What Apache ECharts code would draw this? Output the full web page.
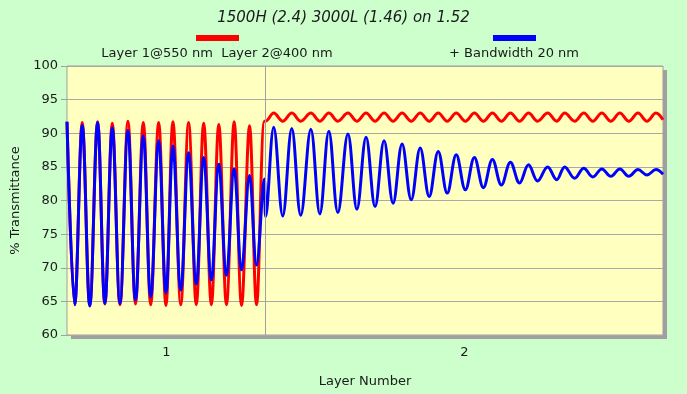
<!DOCTYPE html>
<html>
<head>
<meta charset="utf-8">
<script src="https://cdn.jsdelivr.net/npm/echarts@6/dist/echarts.min.js"></script>
<style>
html,body{margin:0;padding:0;background:#CCFFCC;}
#c{width:687px;height:394px;}
</style>
</head>
<body>
<div id="c"></div>
<script>
// Physical thickness (nm) of each read extremum, in drawing order
var thicknessNm = [
  0, 58, 115, 172, 231, 286, 342, 400, 460, 517, 576, 632, 692, 747, 800, 859, 918, 976, 1032, 1090,
  1146, 1204, 1262, 1318, 1378, 1431, 1490,
  1500,
  1561, 1629, 1697, 1765, 1841, 1909, 1977, 2045, 2121, 2189, 2258, 2326, 2394, 2462, 2530, 2599,
  2667, 2735, 2803, 2871, 2939, 3008, 3076, 3144, 3212, 3280, 3348, 3417, 3485, 3553, 3629, 3697,
  3758, 3833, 3902, 3970, 4038, 4106, 4174, 4242, 4311, 4379, 4447,
  4500
];
// Red: Layer 1 @ 550 nm, Layer 2 @ 400 nm
var redT = [
  91.7, 64.5, 91.6, 64.4, 91.7, 64.6, 91.5, 64.5, 91.8, 64.6, 91.6, 64.5, 91.6, 64.4, 91.7, 64.5,
  91.6, 64.5, 91.5, 64.5, 91.3, 64.5, 91.7, 64.4, 91.1, 64.5, 91.8,
  91.8,
  93.0, 91.8, 93.0, 91.8, 93.0, 91.8, 93.0, 91.8, 93.0, 91.8, 93.0, 91.8, 93.0, 91.8, 93.0, 91.8,
  93.0, 91.8, 93.0, 91.8, 93.0, 91.8, 93.0, 91.8, 93.0, 91.8, 93.0, 91.8, 93.0, 91.8, 93.0, 91.8,
  93.0, 91.8, 93.0, 91.8, 93.0, 91.8, 93.0, 91.8, 93.0, 91.8, 93.0,
  92.0
];
// Blue: + Bandwidth 20 nm
var blueT = [
  91.7, 64.5, 91.2, 64.3, 91.6, 64.7, 90.8, 64.7, 90.4, 65.2, 89.6, 65.7, 88.9, 66.3, 88.1, 66.7,
  87.1, 67.6, 86.4, 68.2, 85.4, 68.9, 84.7, 69.7, 83.7, 70.4, 83.2,
  77.6,
  90.9, 77.7, 90.7, 77.8, 90.6, 78.0, 90.3, 78.2, 89.9, 78.7, 89.4, 79.1, 88.9, 79.6, 88.4, 80.1,
  87.8, 80.6, 87.3, 81.1, 86.8, 81.6, 86.4, 81.9, 86.1, 82.3, 85.7, 82.6, 85.3, 82.9, 85.0, 83.1,
  85.0, 83.3, 84.8, 83.5, 84.7, 83.6, 84.7, 83.6, 84.6, 83.8, 84.6,
  83.9
];
var layerBoundary = 1500;
var layerLabels = {750: '1', 3000: '2'};
var yTicks = [60, 65, 70, 75, 80, 85, 90, 95, 100];

var titleText = '1500H (2.4) 3000L (1.46) on 1.52';
var redName = 'Layer 1@550 nm  Layer 2@400 nm';
var blueName = '+ Bandwidth 20 nm';

function pairs(xs, ys) { return xs.map(function (x, i) { return [x, ys[i]]; }); }

var FONT = 'DejaVu Sans';
var chart = echarts.init(document.getElementById('c'), null, {renderer: 'canvas'});
chart.setOption({
  backgroundColor: '#CCFFCC',
  animation: false,
  textStyle: {fontFamily: FONT},
  title: {
    text: titleText, left: 'center', top: 6,
    textStyle: {fontFamily: FONT, fontSize: 15, fontStyle: 'italic', fontWeight: 'normal', color: '#1a1a1a'}
  },
  graphic: [
    {type: 'rect', z: -10, silent: true, shape: {x: 71, y: 70, width: 596, height: 269}, style: {fill: '#A0A0A0'}},
    {type: 'rect', shape: {x: 196, y: 35, width: 43, height: 6}, style: {fill: '#FF0000'}},
    {type: 'rect', shape: {x: 493, y: 35, width: 43, height: 6}, style: {fill: '#0000FF'}},
    {type: 'text', x: 217, y: 54, style: {text: redName, fill: '#1a1a1a', font: '13px "DejaVu Sans"', textAlign: 'center', textVerticalAlign: 'middle'}},
    {type: 'text', x: 514, y: 54, style: {text: blueName, fill: '#1a1a1a', font: '13px "DejaVu Sans"', textAlign: 'center', textVerticalAlign: 'middle'}}
  ],
  grid: {
    show: true, left: 67, right: 24, top: 66, bottom: 59, z: 0,
    backgroundColor: '#FFFFC0', borderColor: '#A0A0A0', borderWidth: 1
  },
  xAxis: {
    type: 'value', min: 0, max: 4500, interval: 750,
    name: 'Layer Number', nameLocation: 'middle', nameGap: 40,
    nameTextStyle: {fontFamily: FONT, fontSize: 13, color: '#1a1a1a'},
    axisLine: {show: false}, axisTick: {show: false},
    splitLine: {show: false},
    axisLabel: {
      margin: 11, color: '#1a1a1a', fontSize: 13, fontFamily: FONT,
      formatter: function (v) { return layerLabels[v] || ''; }
    }
  },
  yAxis: {
    type: 'value', min: yTicks[0], max: yTicks[yTicks.length - 1], interval: 5,
    name: '% Transmittance', nameLocation: 'middle', nameGap: 44, nameRotate: 90,
    nameTextStyle: {fontFamily: FONT, fontSize: 13, color: '#1a1a1a'},
    axisLine: {show: false},
    axisTick: {show: true, length: 6, lineStyle: {color: '#A0A0A0'}},
    axisLabel: {margin: 9, color: '#1a1a1a', fontSize: 13, fontFamily: FONT},
    splitLine: {show: true, lineStyle: {color: '#A8A8A8', width: 1}}
  },
  series: [
    {
      name: redName, type: 'line', data: pairs(thicknessNm, redT),
      smooth: 0.38, showSymbol: false, symbol: 'none',
      lineStyle: {color: '#FF0000', width: 3}, itemStyle: {color: '#FF0000'},
      markLine: {
        silent: true, symbol: 'none', label: {show: false},
        lineStyle: {color: '#A0A0A0', width: 1, type: 'solid'},
        data: [{xAxis: layerBoundary}]
      },
      z: 2
    },
    {
      name: blueName, type: 'line', data: pairs(thicknessNm, blueT),
      smooth: 0.38, showSymbol: false, symbol: 'none',
      lineStyle: {color: '#0000FF', width: 3}, itemStyle: {color: '#0000FF'},
      z: 3
    }
  ]
});
</script>
</body>
</html>
